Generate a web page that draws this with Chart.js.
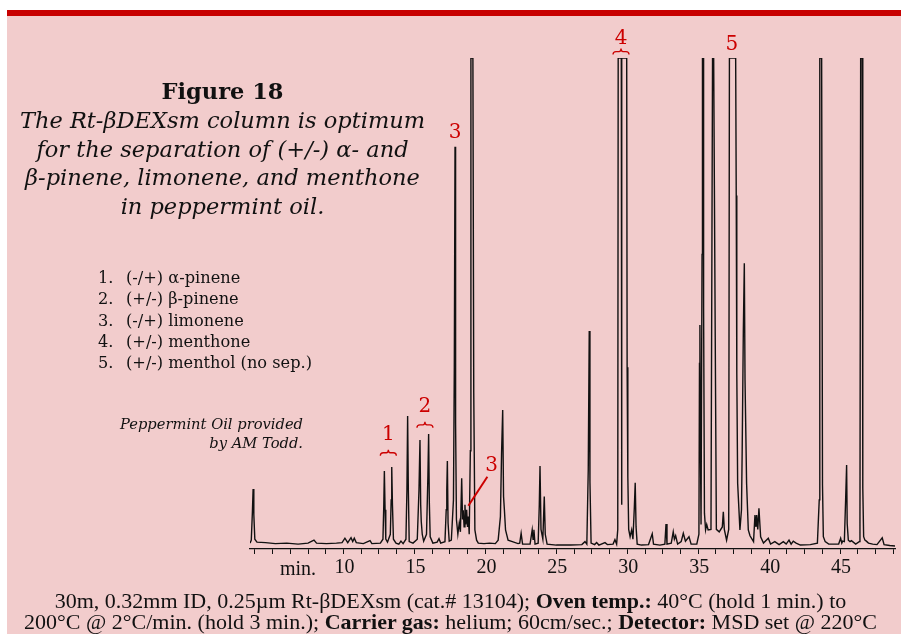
<!DOCTYPE html>
<html>
<head>
<meta charset="utf-8">
<script src="https://cdn.jsdelivr.net/npm/chart.js@4"></script>
<style>
  body { margin:0; background:#fff; width:901px; height:634px; overflow:hidden; position:relative; }
  #panel { position:absolute; left:7px; top:10px; width:894px; height:624px; background:#f2cccc; border-top:6px solid #c80000; box-sizing:border-box; }
  #graf { position:absolute; left:0; top:0; }
  .txt { position:absolute; color:#111; white-space:nowrap; }
  #titulo { left:0px; top:76px; width:445px; text-align:center; font-family:"DejaVu Serif"; }
  #titulo b { font-size:22.5px; display:block; line-height:30px; }
  #titulo i { font-size:22.5px; display:block; line-height:28.7px; }
  #lista { left:88px; top:267px; font-family:"DejaVu Serif"; font-size:16.2px; line-height:21.3px; }
  #lista span { display:inline-block; width:38px; text-align:left; padding-left:10px; box-sizing:border-box; }
  #credito { left:90px; width:213px; top:415px; text-align:right; font-family:"DejaVu Serif"; font-style:italic; font-size:14.7px; line-height:18.5px; }
  #minlbl { left:280px; top:557px; font-family:"Liberation Serif"; font-size:20px; }
  #rodape { left:0; width:901px; top:590px; text-align:center; font-family:"Liberation Serif"; font-size:22px; line-height:21px; }
</style>
</head>
<body>
<div id="panel"></div>
<canvas id="graf" width="901" height="634"></canvas>

<div class="txt" id="titulo"><b>Figure 18</b><i>The Rt-βDEXsm column is optimum</i><i>for the separation of (+/-) α- and</i><i>β-pinene, limonene, and menthone</i><i>in peppermint oil.</i></div>
<div class="txt" id="lista">
  <div><span>1.</span>(-/+) α-pinene</div>
  <div><span>2.</span>(+/-) β-pinene</div>
  <div><span>3.</span>(-/+) limonene</div>
  <div><span>4.</span>(+/-) menthone</div>
  <div><span>5.</span>(+/-) menthol (no sep.)</div>
</div>
<div class="txt" id="credito">Peppermint Oil provided<br>by AM Todd.</div>
<div class="txt" id="minlbl">min.</div>
<div class="txt" id="rodape">30m, 0.32mm ID, 0.25µm Rt-βDEXsm (cat.# 13104); <b>Oven temp.:</b> 40°C (hold 1 min.) to<br>200°C @ 2°C/min. (hold 3 min.); <b>Carrier gas:</b> helium; 60cm/sec.; <b>Detector:</b> MSD set @ 220°C</div>

<script>
// retention time (min) and detector response (% of full scale, 100 = off scale)
var tempo = [
  3.41, 3.50, 3.58, 3.63, 3.68, 3.75, 3.90, 4.5, 5.2, 6.0, 6.8, 7.5, 7.92, 8.1, 8.8, 9.5, 9.9,
  10.1, 10.3, 10.53, 10.65, 10.76, 10.9, 11.4, 11.87, 12.0, 12.6, 12.78, 12.84, 12.88, 12.93, 12.98,
  13.1, 13.3, 13.36, 13.40, 13.45, 13.52, 13.7, 13.9, 14.05, 14.2, 14.4, 14.47, 14.52, 14.57, 14.63,
  14.9, 15.2, 15.32, 15.39, 15.44, 15.48, 15.55, 15.65, 15.85, 15.95, 16.0, 16.05, 16.11, 16.3, 16.6,
  16.73, 16.85, 17.15, 17.24, 17.28, 17.32, 17.37, 17.45, 17.6, 17.75, 17.81, 17.86, 17.9, 17.96,
  18.06, 18.16, 18.24, 18.33, 18.39, 18.44, 18.50, 18.56, 18.62, 18.68, 18.74, 18.80, 18.86, 18.94,
  18.98, 19.12, 19.18, 19.26, 19.38, 19.5, 19.9, 20.3, 20.7, 20.9, 21.06, 21.14, 21.22, 21.28, 21.34,
  21.42, 21.6, 21.9, 22.3, 22.42, 22.52, 22.62, 23.15, 23.3, 23.36, 23.42, 23.5, 23.72, 23.80, 23.85,
  23.92, 24.05, 24.15, 24.22, 24.35, 25.0, 26.0, 26.8, 27.02, 27.15, 27.25, 27.32, 27.37, 27.45, 27.7,
  27.84, 28.0, 28.43, 28.6, 29.0, 29.13, 29.25, 29.33, 29.36, 29.58, 29.60, 29.62, 29.96, 29.99, 30.04,
  30.1, 30.2, 30.31, 30.4, 30.5, 30.56, 30.62, 30.7, 31.0, 31.5, 31.76, 31.85, 32.3, 32.65, 32.73, 32.8,
  33.1, 33.24, 33.32, 33.41, 33.55, 33.8, 33.95, 34.1, 34.35, 34.5, 34.9, 35.05, 35.09, 35.12, 35.16,
  35.2, 35.27, 35.30, 35.35, 35.38, 35.44, 35.52, 35.6, 35.7, 35.9, 35.97, 36.01, 36.09, 36.14, 36.2,
  36.28, 36.48, 36.7, 36.77, 36.84, 37.0, 37.15, 37.2, 37.64, 37.68, 37.72, 37.78, 37.94, 38.05, 38.1,
  38.18, 38.25, 38.3, 38.41, 38.53, 38.65, 38.9, 39.0, 39.07, 39.12, 39.2, 39.28, 39.4, 39.6, 39.94,
  40.1, 40.4, 40.7, 41.0, 41.2, 41.4, 41.55, 41.7, 41.9, 42.2, 42.9, 43.4, 43.53, 43.57, 43.70, 43.76,
  43.82, 43.95, 44.2, 44.9, 45.04, 45.12, 45.18, 45.3, 45.39, 45.46, 45.5, 45.58, 45.7, 45.8, 46.1,
  46.35, 46.4, 46.45, 46.56, 46.6, 46.66, 46.75, 46.85, 47.0, 47.3, 47.6, 47.97, 48.1, 48.5, 48.87
];
var sinal = [
  1.2, 1.8, 7.6, 12.2, 7.0, 2.0, 1.4, 1.3, 1.1, 1.2, 1.0, 1.2, 1.8, 1.2, 1.1, 1.2, 1.3,
  2.2, 1.3, 2.3, 1.5, 2.2, 1.3, 1.1, 1.7, 1.1, 1.2, 2.0, 9.0, 15.9, 8.0, 2.0,
  1.4, 3.0, 10.0, 16.7, 9.0, 2.0, 1.2, 1.0, 1.6, 1.1, 2.0, 12.0, 27.1, 12.0, 1.5,
  1.2, 2.0, 12.0, 22.2, 9.0, 5.6, 3.0, 1.6, 3.0, 15.0, 23.4, 9.4, 2.5, 1.2, 1.4,
  2.1, 1.2, 1.5, 8.0, 12.0, 17.9, 5.3, 1.6, 1.8, 10.0, 37.0, 81.9, 25.7, 6.0,
  3.0, 5.3, 3.5, 14.4, 6.0, 7.9, 4.5, 9.0, 5.0, 8.0, 4.5, 6.6, 3.0, 20.0,
  100, 100, 31.8, 3.9, 1.8, 1.2, 1.1, 1.2, 1.1, 1.8, 6.6, 19.5, 28.3, 10.7, 8.0,
  3.9, 1.8, 1.5, 1.1, 1.2, 3.2, 1.0, 1.0, 3.9, 2.0, 3.9, 1.0, 1.2, 9.0, 16.9,
  4.0, 2.0, 10.7, 3.0, 1.0, 0.8, 0.8, 0.9, 1.5, 1.0, 16.1, 44.4, 13.7, 1.2, 0.9,
  1.3, 0.8, 1.3, 0.9, 1.0, 1.9, 1.0, 4.0, 100, 100, 9.0, 100, 100, 37.0, 14.7,
  4.0, 2.5, 3.9, 2.0, 8.6, 13.5, 4.5, 1.0, 0.8, 0.9, 3.1, 1.0, 0.8, 1.0, 5.1, 1.0,
  1.2, 3.5, 2.0, 2.7, 1.0, 1.5, 3.2, 1.6, 2.5, 1.0, 1.0, 3.0, 37.8, 45.6, 20.0,
  5.0, 60.0, 100, 100, 49.3, 7.3, 3.9, 5.0, 3.9, 4.0, 65.0, 100, 100, 74.0, 43.0,
  4.0, 3.5, 4.5, 7.6, 4.0, 1.8, 4.0, 100, 100, 72.0, 35.8, 13.4, 3.9, 8.0, 20.2,
  44.3, 58.2, 34.4, 13.4, 3.9, 2.7, 1.5, 6.9, 4.5, 6.9, 4.0, 8.3, 2.5, 1.2, 2.2,
  1.0, 1.5, 0.9, 1.5, 1.0, 1.8, 1.0, 1.6, 1.2, 0.8, 0.9, 1.2, 10.0, 100, 100, 13.0,
  2.5, 1.5, 1.0, 1.0, 2.2, 1.2, 1.6, 1.5, 10.0, 17.1, 5.2, 1.8, 1.5, 1.7, 1.0,
  1.5, 5.9, 100, 100, 12.4, 2.5, 1.8, 1.6, 1.2, 1.0, 0.9, 2.3, 0.9, 0.7, 0.6
];

// axis: labelled every 5 min, small ticks every 1.25 min
var rotulos = [10, 15, 20, 25, 30, 35, 40, 45];
var passoTick = 1.25;

// red peak labels
var notas = [
  { txt: '1', t: 13.16, v: 23.2, chave: 19.6 },
  { txt: '2', t: 15.74, v: 29.0, chave: 25.3 },
  { txt: '3', t: 17.86, v: 84.7 },
  { txt: '3', t: 20.44, v: 16.9, seta: [20.14, 14.7, 18.80, 8.8] },
  { txt: '4', t: 29.56, v: 104.0, chave: 101.3 },
  { txt: '5', t: 37.38, v: 102.6 }
];

var pontos = [];
for (var i = 0; i < tempo.length; i++) {
  pontos.push({ x: tempo[i], y: sinal[i] });
}

var notasPlugin = {
  id: 'notas',
  afterDatasetsDraw: function (chart) {
    var ctx = chart.ctx;
    var sx = chart.scales.x, sy = chart.scales.y;
    ctx.save();
    ctx.fillStyle = '#cc0000';
    ctx.strokeStyle = '#cc0000';
    ctx.font = '20px "DejaVu Serif"';
    ctx.textAlign = 'center';
    ctx.textBaseline = 'middle';
    notas.forEach(function (n) {
      var x = sx.getPixelForValue(n.t);
      ctx.fillText(n.txt, x, sy.getPixelForValue(n.v));
      if (n.chave !== undefined) {
        var y = sy.getPixelForValue(n.chave);
        var l = x - 8, r = x + 8;
        ctx.lineWidth = 1.3;
        ctx.beginPath();
        ctx.moveTo(l, y + 3);
        ctx.quadraticCurveTo(l, y, l + 3, y);
        ctx.lineTo(x - 2, y);
        ctx.quadraticCurveTo(x, y, x, y - 3);
        ctx.quadraticCurveTo(x, y, x + 2, y);
        ctx.lineTo(r - 3, y);
        ctx.quadraticCurveTo(r, y, r, y + 3);
        ctx.stroke();
      }
      if (n.seta) {
        ctx.lineWidth = 2;
        ctx.beginPath();
        ctx.moveTo(sx.getPixelForValue(n.seta[0]), sy.getPixelForValue(n.seta[1]));
        ctx.lineTo(sx.getPixelForValue(n.seta[2]), sy.getPixelForValue(n.seta[3]));
        ctx.stroke();
      }
    });
    ctx.restore();
  }
};

var graf = new Chart(document.getElementById('graf'), {
  type: 'line',
  data: {
    datasets: [{
      data: pontos,
      borderColor: '#111',
      borderWidth: 1.4,
      pointRadius: 0,
      tension: 0,
      fill: false
    }]
  },
  options: {
    responsive: false,
    animation: false,
    events: [],
    layout: { padding: { left: 250, right: 6, top: 58, bottom: 0 } },
    plugins: { legend: { display: false }, tooltip: { enabled: false } },
    scales: {
      x: {
        type: 'linear',
        min: 3.41,
        max: 48.87,
        afterFit: function (s) { s.height = 85; },
        afterBuildTicks: function (s) {
          var t = [];
          for (var v = 3.75; v <= 48.8; v += passoTick) t.push({ value: Math.round(v * 100) / 100 });
          s.ticks = t;
        },
        border: { display: true, color: '#111', width: 1.3 },
        grid: { drawOnChartArea: false, drawTicks: true, tickLength: 5, tickColor: '#111', lineWidth: 1 },
        ticks: {
          autoSkip: false,
          maxRotation: 0,
          padding: 2,
          labelOffset: 1,
          color: '#111',
          font: { family: 'Liberation Serif', size: 20 },
          callback: function (v) { return rotulos.indexOf(v) >= 0 ? String(v) : ''; }
        }
      },
      y: { display: false, min: 0, max: 100 }
    }
  },
  plugins: [notasPlugin]
});
</script>
</body>
</html>
